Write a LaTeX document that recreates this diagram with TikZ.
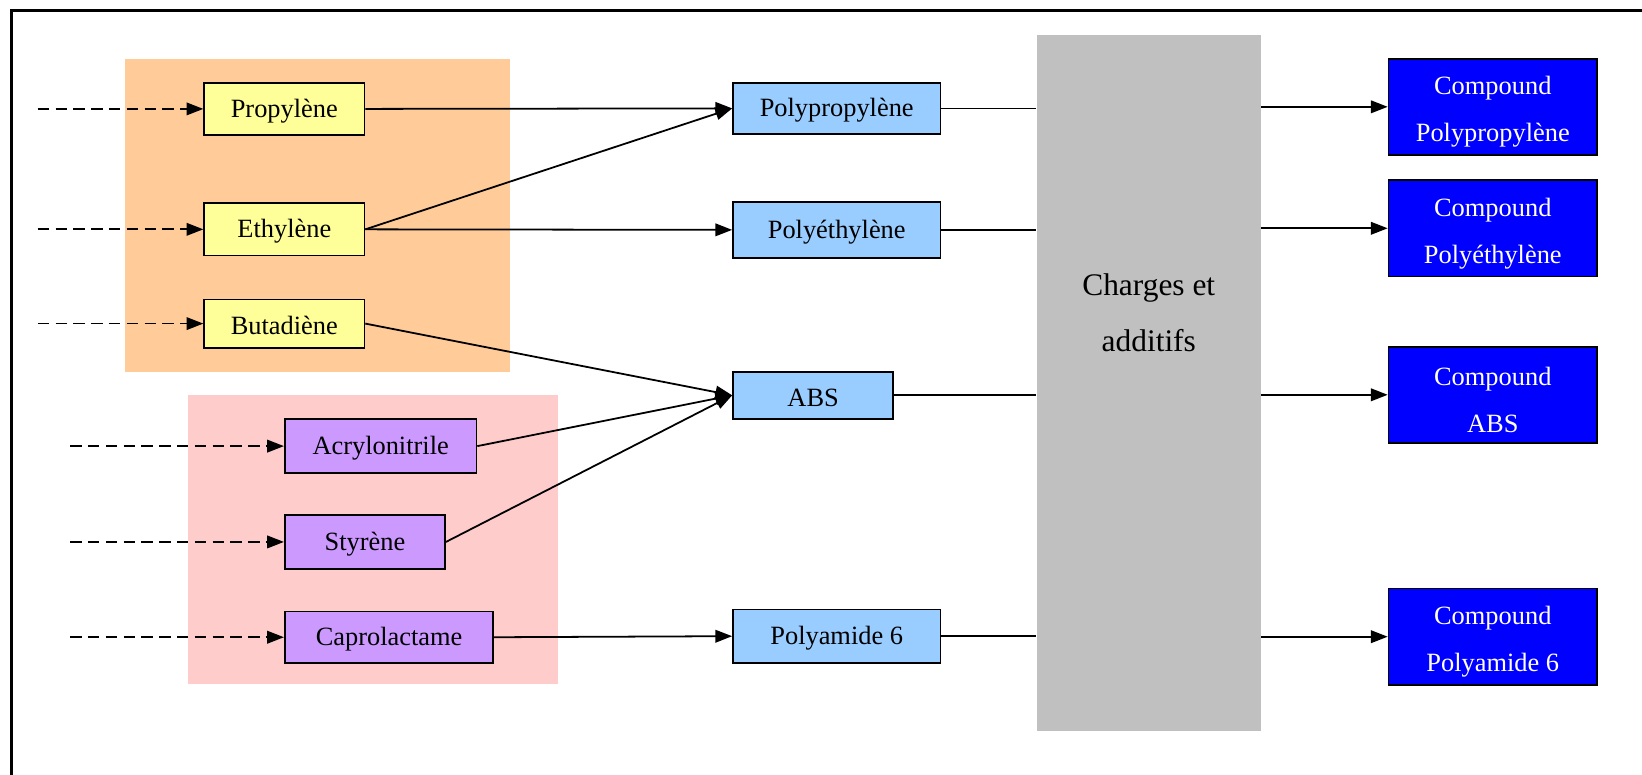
\documentclass[tikz,border=0pt]{standalone}
\usepackage{fontspec}
\setmainfont{Liberation Serif}
\usetikzlibrary{arrows.meta}
\definecolor{orangebg}{HTML}{FFCC99}
\definecolor{pinkbg}{HTML}{FFCCCC}
\definecolor{monoyellow}{HTML}{FFFF99}
\definecolor{monopurple}{HTML}{CC99FF}
\definecolor{polyblue}{HTML}{99CCFF}
\definecolor{addgray}{HTML}{C0C0C0}
\definecolor{compblue}{HTML}{0000FF}
\newcommand{\topstrut}{\rule{0pt}{13.5pt}}
\newcommand{\lowstrut}{\rule{0pt}{10.5pt}}
\begin{document}
\begin{tikzpicture}[x=0.5pt,y=-0.5pt,
  box/.style={draw=black, line width=0.85pt, inner sep=0pt, align=center,
    font=\fontsize{12.6}{22.5}\selectfont},
  mono/.style={box, fill=monoyellow},
  monob/.style={box, fill=monopurple},
  poly/.style={box, fill=polyblue},
  comp/.style={box, fill=compblue, text=white, minimum width=99.5pt, minimum height=46pt},
  feed/.style={draw, line width=0.85pt, dash pattern=on 5.5pt off 3pt, -{Triangle[length=8pt,width=6pt]}},
  link/.style={draw, line width=0.85pt, -{Triangle[length=8pt,width=6pt]}},
  plain/.style={draw, line width=0.85pt},
  zone/.style={inner sep=0pt, draw=none}
]
\useasboundingbox (0,0) rectangle (1568,740);
\clip (0,0) rectangle (1568,740);
\fill[white] (0,0) rectangle (1568,740);
\draw[line width=1pt] (11,10) rectangle (1620,800);

% background zones
\node[zone, fill=orangebg, minimum width=184pt, minimum height=149.5pt] (zoneA) at (303,205.5) {};
\node[zone, fill=pinkbg, minimum width=176.5pt, minimum height=138pt] (zoneB) at (356.5,515) {};

% monomers
\node[mono, minimum width=76.5pt, minimum height=25pt] (prop) at (271.5,104) {\lowstrut Propylène};
\node[mono, minimum width=76.5pt, minimum height=25pt] (eth) at (271.5,219) {\lowstrut Ethylène};
\node[mono, minimum width=76.5pt, minimum height=23pt] (but) at (271.5,309) {\lowstrut Butadiène};
\node[monob, minimum width=91.5pt, minimum height=26pt] (acr) at (363.5,426) {\lowstrut Acrylonitrile};
\node[monob, minimum width=76.5pt, minimum height=25.5pt] (sty) at (348.5,517.5) {\lowstrut Styrène};
\node[monob, minimum width=99.5pt, minimum height=24.5pt] (cap) at (371.5,608.5) {\lowstrut Caprolactame};

% feed coordinates
\coordinate (f1) at (36,104);
\coordinate (f2) at (36,219);
\coordinate (f3) at (36,309);
\coordinate (f4) at (67,426);
\coordinate (f5) at (67,517.5);
\coordinate (f6) at (67,608.5);

% polymers
\node[poly, minimum width=99pt, minimum height=24.5pt] (pp) at (799,103.5) {\lowstrut Polypropylène};
\node[poly, minimum width=99pt, minimum height=26.5pt] (pe) at (799,219.5) {\lowstrut Polyéthylène};
\node[poly, minimum width=76.5pt, minimum height=22.5pt] (abs) at (776.5,377.5) {\lowstrut ABS};
\node[poly, minimum width=99pt, minimum height=25.5pt] (pa) at (799,607.5) {\lowstrut Polyamide 6};

% charges
\node[zone, fill=addgray, minimum width=107pt, minimum height=332.5pt] (gray) at (1097,365.5) {};
\node[align=center, inner sep=0pt, font=\fontsize{15}{26.5}\selectfont] (graytext) at (1097,298.5) {Charges et\\additifs};

% compounds
\node[comp] (cpp) at (1425.5,102) {\topstrut Compound\\Polypropylène};
\node[comp] (cpe) at (1425.5,218) {\topstrut Compound\\Polyéthylène};
\node[comp] (cabs) at (1425.5,377) {\topstrut Compound\\ABS};
\node[comp] (cpa) at (1425.5,608) {\topstrut Compound\\Polyamide 6};

% feeds
\path[feed] (f1) -- (prop.west);
\path[feed] (f2) -- (eth.west);
\path[feed] (f3) -- (but.west);
\path[feed] (f4) -- (acr.west);
\path[feed] (f5) -- (sty.west);
\path[feed] (f6) -- (cap.west);

% monomer to polymer
\path[link] (prop.east) -- (pp.west);
\path[link] (eth.east) -- (pp.west);
\path[link] (eth.east) -- (pe.west);
\path[link] (but.east) -- (abs.west);
\path[link] (acr.east) -- (abs.west);
\path[link] (sty.east) -- (abs.west);
\path[link] (cap.east) -- (pa.west);

% polymer to charges
\path[plain] (pp.east) -- (pp.east -| gray.west);
\path[plain] (pe.east) -- (pe.east -| gray.west);
\path[plain] (abs.east) -- (abs.east -| gray.west);
\path[plain] (pa.east) -- (pa.east -| gray.west);

% charges to compounds
\path[link] (gray.east |- cpp.west) -- (cpp.west);
\path[link] (gray.east |- cpe.west) -- (cpe.west);
\path[link] (gray.east |- cabs.west) -- (cabs.west);
\path[link] (gray.east |- cpa.west) -- (cpa.west);
\end{tikzpicture}
\end{document}
